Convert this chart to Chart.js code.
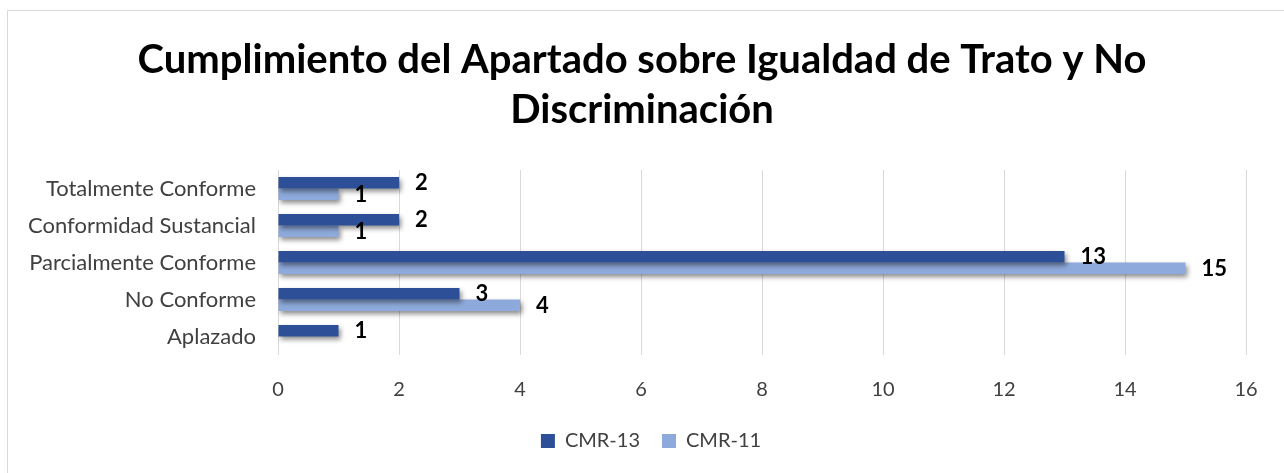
<!DOCTYPE html>
<html>
<head>
<meta charset="utf-8">
<script src="https://cdn.jsdelivr.net/npm/chart.js@4/dist/chart.umd.min.js"></script>
<style>
  html, body { margin: 0; padding: 0; background: #ffffff; }
  #wrap { position: relative; width: 1284px; height: 473px; }
</style>
</head>
<body>
<div id="wrap"><canvas id="c" width="1284" height="473"></canvas></div>
<script>
const categories = ['Totalmente Conforme', 'Conformidad Sustancial', 'Parcialmente Conforme', 'No Conforme', 'Aplazado'];
const cmr13 = [2, 2, 13, 3, 1];
const cmr11 = [1, 1, 15, 4, 0];
const seriesNames = ['CMR-13', 'CMR-11'];
const titleLines = ['Cumplimiento del Apartado sobre Igualdad de Trato y No', 'Discriminación'];

const FONT = 'Lato, "Open Sans", sans-serif';

const frame = {
  id: 'frame',
  afterLayout(chart) {
    const t = chart.titleBlock;
    if (t) { t.left = 0; t.right = chart.width; t.width = chart.width; }
    const l = chart.legend;
    if (l) { l.left = 18; l.right = chart.width; l.width = chart.width - 18; }
  },
  beforeDraw(chart) {
    const ctx = chart.ctx;
    ctx.save();
    ctx.fillStyle = '#ffffff';
    ctx.fillRect(0, 0, chart.width, chart.height);
    ctx.strokeStyle = '#d9d9d9';
    ctx.lineWidth = 1;
    ctx.beginPath();
    ctx.moveTo(7.5, chart.height);
    ctx.lineTo(7.5, 10.5);
    ctx.lineTo(chart.width, 10.5);
    ctx.stroke();
    ctx.restore();
  }
};

const shadow = {
  id: 'shadow',
  beforeDatasetDraw(chart) {
    const ctx = chart.ctx;
    ctx.save();
    ctx.shadowColor = 'rgba(0,0,0,0.45)';
    ctx.shadowBlur = 5;
    ctx.shadowOffsetX = 2;
    ctx.shadowOffsetY = 3;
  },
  afterDatasetDraw(chart) {
    chart.ctx.restore();
  }
};

const valueLabels = {
  id: 'valueLabels',
  afterDraw(chart) {
    const ctx = chart.ctx;
    ctx.save();
    ctx.font = 'bold 22px ' + FONT;
    ctx.fillStyle = '#000000';
    ctx.textAlign = 'left';
    ctx.textBaseline = 'middle';
    chart.data.datasets.forEach((ds, i) => {
      const meta = chart.getDatasetMeta(i);
      meta.data.forEach((bar, j) => {
        const v = ds.data[j];
        if (!v) return;
        ctx.fillText(String(v), bar.x + 16, bar.y + (i === 1 ? 1 : 0));
      });
    });
    ctx.restore();
  }
};

new Chart(document.getElementById('c'), {
  type: 'bar',
  data: {
    labels: categories,
    datasets: [
      { label: seriesNames[0], data: cmr13, backgroundColor: '#2d4f97', categoryPercentage: 0.62, barPercentage: 1.0 },
      { label: seriesNames[1], data: cmr11, backgroundColor: '#8eaadc', categoryPercentage: 0.62, barPercentage: 1.0 }
    ]
  },
  options: {
    indexAxis: 'y',
    responsive: false,
    animation: false,
    layout: { padding: { left: 0, right: 38, top: 0, bottom: 12 } },
    scales: {
      x: {
        min: 0, max: 16,
        ticks: { stepSize: 2, padding: 23, color: '#404040', font: { family: FONT, size: 20 } },
        grid: { color: '#d9d9d9', drawTicks: false },
        border: { display: false },
        afterFit(scale) { scale.height = 54; }
      },
      y: {
        ticks: { padding: 22, color: '#404040', font: { family: FONT, size: 22 } },
        grid: { display: false, drawTicks: false },
        border: { display: false },
        afterFit(scale) { scale.width = 278; }
      }
    },
    plugins: {
      title: {
        display: true,
        text: titleLines,
        color: '#000000',
        font: { family: FONT, size: 40, weight: 'bold', lineHeight: 1.25 },
        padding: { top: 35, bottom: 35 }
      },
      legend: {
        position: 'bottom',
        labels: {
          boxWidth: 14, boxHeight: 14, padding: 22,
          color: '#404040',
          font: { family: FONT, size: 20 }
        }
      },
      tooltip: { enabled: false }
    }
  },
  plugins: [frame, shadow, valueLabels]
});
</script>
</body>
</html>
